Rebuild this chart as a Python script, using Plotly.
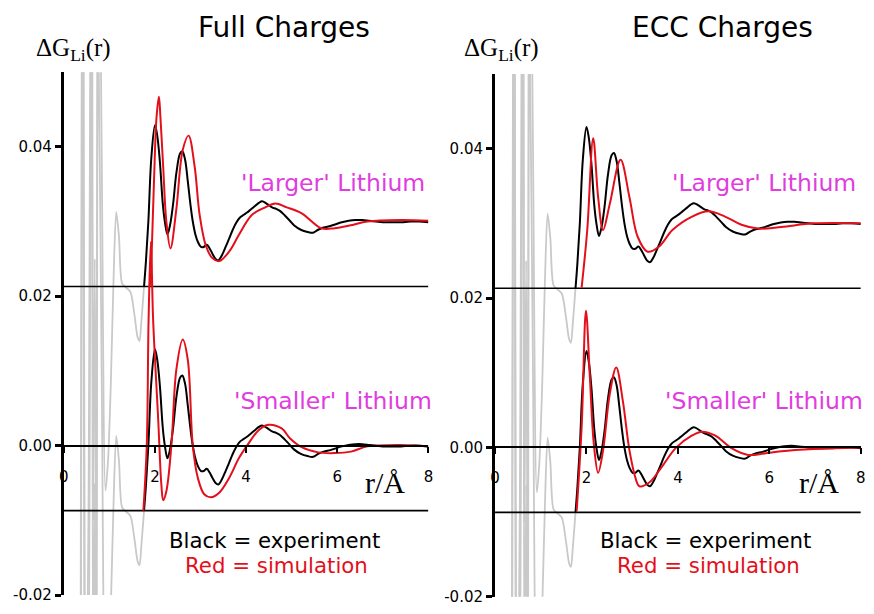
import plotly.graph_objects as go

# ---------------- data ----------------
offset_larger = 0.03        # vertical shift of the 'Larger' Lithium set
low_r_limit = -0.0087       # low-r limit of ΔG (horizontal base lines)

# experimental low-r truncation ripples (grey)
grey_r = [0.36, 0.42, 0.47, 0.54, 0.61, 0.645, 0.68, 0.715, 0.75, 0.83,
          0.915, 0.97, 1.03, 1.09, 1.15, 1.21, 1.28, 1.36, 1.46, 1.55, 1.62, 1.66,
          1.70, 1.76]
grey_g = [-0.09, 0.09, -0.08, -0.04, 0.07, -0.04, -0.005, -0.05, 0.06, 0.01,
          -0.036, -0.032, -0.022, -0.008, 0.0013, -0.002, -0.0083, -0.0088, -0.0094, -0.0125,
          -0.0155, -0.016, -0.0135, -0.0087]

# experiment (black)
exp_r = [1.76, 1.80, 1.855, 1.92, 2.00, 2.05, 2.108, 2.17, 2.217, 2.274, 2.33, 2.397,
         2.47, 2.55, 2.60, 2.66, 2.72, 2.78, 2.83, 2.89, 2.94, 3.01, 3.07, 3.135, 3.20,
         3.26, 3.33, 3.39, 3.47, 3.55, 3.62, 3.70, 3.78, 3.86, 3.95, 4.02, 4.10, 4.20,
         4.28, 4.35, 4.45, 4.57, 4.66, 4.75, 4.85, 4.96, 5.05, 5.20, 5.35, 5.47, 5.58,
         5.70, 5.85, 5.95, 6.10, 6.25, 6.40, 6.55, 6.70, 6.85, 7.00, 7.20, 7.40, 7.60,
         7.80, 8.00]
exp_g = [-0.0087, -0.0055, 0.0, 0.0085, 0.0129, 0.0115, 0.0080, 0.0025, 0.0, -0.0017,
         -0.0005, 0.0023, 0.0065, 0.0091, 0.0094, 0.0083, 0.0054, 0.0022, 0.0, -0.0018,
         -0.0027, -0.0034, -0.0034, -0.0031, -0.0036, -0.0043, -0.0050, -0.0052, -0.0045,
         -0.0034, -0.0024, -0.0012, -0.0002, 0.0005, 0.0009, 0.0012, 0.0016, 0.0021,
         0.0025, 0.0027, 0.0024, 0.0019, 0.0017, 0.0014, 0.0008, 0.0001, -0.0005,
         -0.0011, -0.0014, -0.0015, -0.0011, -0.0008, -0.0006, -0.0004, -0.0001, 0.0001,
         0.0002, 0.0002, 0.0001, 0.0, -0.0001, -0.0001, -0.0001, 0.0, 0.0, -0.0001]

# simulation (red) - Full charges
full_larger_r = [1.905, 1.978, 2.035, 2.087, 2.12, 2.18, 2.25, 2.34, 2.47, 2.61, 2.737,
                 2.87, 2.98, 3.12, 3.26, 3.41, 3.63, 3.84, 4.13, 4.42, 4.64, 4.89, 5.22,
                 5.65, 5.94, 6.30, 6.66, 7.39, 8.00]
full_larger_g = [-0.0086, 0.0053, 0.0140, 0.0167, 0.0140, 0.0074, 0.0, -0.0036, 0.0017,
                 0.0096, 0.0115, 0.0074, 0.0009, -0.0033, -0.0049, -0.0053, -0.0040,
                 -0.0018, 0.0009, 0.0019, 0.0024, 0.0019, 0.0011, -0.0009, -0.0009,
                 -0.0005, 0.0, 0.0002, 0.0001]
full_smaller_r = [1.746, 1.82, 1.86, 1.91, 1.96, 2.07, 2.14, 2.18, 2.25, 2.36, 2.47,
                  2.61, 2.72, 2.83, 2.94, 3.08, 3.23, 3.41, 3.63, 3.84, 4.02, 4.28,
                  4.49, 4.78, 4.96, 5.22, 5.58, 5.94, 6.30, 6.66, 7.39, 8.00]
full_smaller_g = [-0.0087, 0.0, 0.0168, 0.0273, 0.0168, 0.0036, -0.0052, -0.0073,
                  -0.0061, 0.0, 0.0102, 0.0142, 0.0115, 0.0, -0.0043, -0.0065, -0.0069,
                  -0.0063, -0.0043, -0.0017, 0.0, 0.0021, 0.0028, 0.0023, 0.0010,
                  -0.0002, -0.0009, -0.0010, -0.0008, -0.0001, 0.0001, -0.0001]

# simulation (red) - ECC charges
ecc_larger_r = [1.894, 2.017, 2.147, 2.255, 2.363, 2.51, 2.746, 2.94, 3.12, 3.336,
                3.59, 3.88, 4.31, 4.67, 5.03, 5.39, 5.75, 6.26, 6.975, 8.00]
ecc_larger_g = [-0.0086, -0.0009, 0.0114, 0.0035, -0.0009, 0.0026, 0.0085, 0.0035,
                -0.0018, -0.0038, -0.0031, -0.0009, 0.0009, 0.0016, 0.0009, -0.0002,
                -0.0007, -0.0005, 0.0, 0.0]
ecc_smaller_r = [1.786, 1.894, 1.989, 2.075, 2.16, 2.255, 2.363, 2.508, 2.651, 2.796,
                 2.94, 3.083, 3.157, 3.373, 3.66, 3.95, 4.31, 4.525, 4.81, 5.17, 5.535,
                 5.89, 6.26, 6.98, 8.00]
ecc_smaller_g = [-0.0085, 0.0027, 0.0183, 0.0093, 0.0005, -0.0034, -0.0004, 0.0071,
                 0.0107, 0.0062, -0.0004, -0.0043, -0.0052, -0.0047, -0.0025, -0.0001,
                 0.0016, 0.0021, 0.0016, -0.0001, -0.0010, -0.0008, -0.0005, -0.0002,
                 0.0]

panel_titles = ["Full Charges", "ECC Charges"]
x_ticks = [0, 2, 4, 6, 8]
y_ticks = [-0.02, 0.0, 0.02, 0.04]
y_ticktext = ["-0.02", "0.00", "0.02", "0.04"]

# ---------------- figure ----------------
GREY = "#c9c9c9"
RED = "#e3101b"
MAGENTA = "#e03ce0"
SANS = "DejaVu Sans"
SERIF = "Liberation Serif"

fig = go.Figure()

sims = [(full_larger_r, full_larger_g, full_smaller_r, full_smaller_g),
        (ecc_larger_r, ecc_larger_g, ecc_smaller_r, ecc_smaller_g)]

for i, (lr, lg, sr, sg) in enumerate(sims):
    xa = "x" if i == 0 else "x2"
    ya = "y" if i == 0 else "y2"
    common = dict(xaxis=xa, yaxis=ya, mode="lines", showlegend=False, hoverinfo="skip")
    # grey low-r ripples
    fig.add_trace(go.Scatter(x=grey_r, y=[v + offset_larger for v in grey_g],
                             line=dict(color=GREY, width=1.8, shape="spline", smoothing=0.8),
                             **common))
    fig.add_trace(go.Scatter(x=grey_r, y=grey_g,
                             line=dict(color=GREY, width=1.8, shape="spline", smoothing=0.8),
                             **common))
    # base lines
    for off in (offset_larger, 0.0):
        fig.add_trace(go.Scatter(x=[0, 8], y=[low_r_limit + off] * 2,
                                 line=dict(color="black", width=1.6), **common))
    # upper set
    fig.add_trace(go.Scatter(x=exp_r, y=[v + offset_larger for v in exp_g],
                             line=dict(color="black", width=2, shape="spline"), **common))
    fig.add_trace(go.Scatter(x=lr, y=[v + offset_larger for v in lg],
                             line=dict(color=RED, width=2, shape="spline"), **common))
    # lower set
    fig.add_trace(go.Scatter(x=exp_r, y=exp_g,
                             line=dict(color="black", width=2, shape="spline"), **common))
    fig.add_trace(go.Scatter(x=sr, y=sg,
                             line=dict(color=RED, width=2, shape="spline"), **common))

W, H = 874, 614


def py2paper(py):
    return max(0.0, min(1.0, 1 - py / H))


x_domains = [[59.5 / W, 428.3 / W], [495.7 / W, 865.7 / W]]
y_domains = [[py2paper(603.9), py2paper(73.2)], [py2paper(605.7), py2paper(75.0)]]
zero_pos = [py2paper(452.3), py2paper(454.0)]

axis_common_x = dict(range=[0, 8], showgrid=False, zeroline=False, showline=True,
                     linecolor="black", linewidth=2.2, ticks="outside", ticklen=6,
                     tickwidth=2, tickcolor="black", tickvals=x_ticks,
                     tickfont=dict(family=SANS, size=15, color="black"),
                     ticklabelstandoff=11, anchor="free")
axis_common_y = dict(range=[-0.02, 0.05], showgrid=False, zeroline=False, showline=True,
                     linecolor="black", linewidth=3, ticks="outside", ticklen=6,
                     tickwidth=2.5, tickcolor="black", tickvals=y_ticks,
                     ticktext=y_ticktext,
                     tickfont=dict(family=SANS, size=15, color="black"))

fig.update_layout(
    width=W, height=H, margin=dict(l=0, r=0, t=0, b=0),
    paper_bgcolor="white", plot_bgcolor="white",
    xaxis=dict(domain=x_domains[0], position=zero_pos[0], **axis_common_x),
    xaxis2=dict(domain=x_domains[1], position=zero_pos[1], **axis_common_x),
    yaxis=dict(domain=y_domains[0], anchor="x", **axis_common_y),
    yaxis2=dict(domain=y_domains[1], anchor="x2", **axis_common_y),
)


def ann(text, px, py, size, color="black", family=SANS):
    fig.add_annotation(text=text, x=px / W, y=py2paper(py), xref="paper", yref="paper",
                       xanchor="center", yanchor="middle", showarrow=False,
                       font=dict(family=family, size=size, color=color))


for i in range(2):
    ann(panel_titles[i], [282.5, 726][i], 28, 28)
    ann("ΔG<sub>Li</sub>(r)", [69, 502.5][i], 50, 25, family=SERIF)
    ann("'Larger' Lithium", [331.5, 767.5][i], 186, 23.5, MAGENTA)
    ann("'Smaller' Lithium", [331.5, 767.5][i], 407, 23.5, MAGENTA)
    ann("Black = experiment", [272.5, 709][i], 549, 21.3)
    ann("Red = simulation", [275, 711.5][i], 574, 21.3, RED)
    ann("r/Å", [384.5, 823][i], 490, 30, family=SERIF)

fig.write_html("out.html")
